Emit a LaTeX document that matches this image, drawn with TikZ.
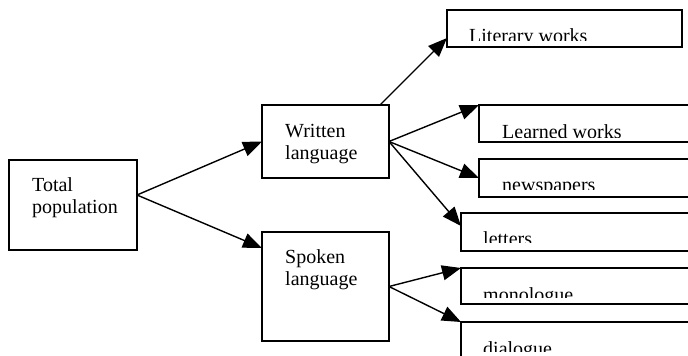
\documentclass[tikz,border=0pt]{standalone}
\usepackage{fontspec}
\setmainfont{Liberation Serif}
\usetikzlibrary{arrows.meta}
\begin{document}
\begin{tikzpicture}[x=1pt,y=-1pt,
  box/.style={draw=black,line width=1.7pt,fill=none,inner sep=0pt,outer sep=0pt},
  lbl/.style={anchor=base west,inner sep=0pt,font=\fontsize{20}{22}\selectfont},
  conn/.style={line width=1.4pt,-{Triangle[length=19pt,width=15pt]}}]
\useasboundingbox (0,0) rectangle (688,356);
\clip (0,0) rectangle (688,356);
% boxes
\node[box,minimum width=128pt,minimum height=90pt] (tot) at (73,205) {};
\node[box,minimum width=127pt,minimum height=73pt] (wri) at (325.5,141.5) {};
\node[box,minimum width=127pt,minimum height=109pt] (spo) at (325.5,286.5) {};
\node[box,minimum width=235pt,minimum height=37pt] (lit) at (564.5,28.5) {};
\node[box,minimum width=241pt,minimum height=37pt] (lea) at (599.5,123.5) {};
\node[box,minimum width=241pt,minimum height=38pt] (new) at (599.5,178) {};
\node[box,minimum width=259pt,minimum height=38pt] (let) at (590.5,232) {};
\node[box,minimum width=259pt,minimum height=36pt] (mon) at (590.5,286) {};
\node[box,minimum width=259pt,minimum height=38pt] (dia) at (590.5,341) {};
% texts of the left boxes
\node[lbl] (totT) at (32,191) {\vtop{\hbox{Total}\hbox{population}}};
\node[lbl] (wriT) at (285,137) {\vtop{\hbox{Written}\hbox{language}}};
\node[lbl] (spoT) at (285,263) {\vtop{\hbox{Spoken}\hbox{language}}};
% clipped texts of the right boxes (the reference shows them cut at the bottom)
\begin{scope}\clip (447,10) rectangle (682,40.5);
\node[lbl] (litT) at (469,42) {Literary works};\end{scope}
\begin{scope}\clip (479,105) rectangle (688,137);
\node[lbl] (leaT) at (502,138) {Learned works};\end{scope}
\begin{scope}\clip (479,159) rectangle (688,189.5);
\node[lbl] (newT) at (502,191) {newspapers};\end{scope}
\begin{scope}\clip (461,213) rectangle (688,242.5);
\node[lbl] (letT) at (483,245.5) {letters};\end{scope}
\begin{scope}\clip (461,268) rectangle (688,297);
\node[lbl] (monT) at (483,301.5) {monologue};\end{scope}
\begin{scope}\clip (461,322) rectangle (688,351);
\node[lbl] (diaT) at (483,355.5) {dialogue};\end{scope}
% connector points
\coordinate (totOut) at (137,195);
\coordinate (spoIn) at (262,248);
\coordinate (wriTop) at (380,105);
\coordinate (litIn) at (447,38);
\coordinate (letIn) at (461,226);
% connectors
\draw[conn] (totOut) -- (wri.west);
\draw[conn] (totOut) -- (spoIn);
\draw[conn] (wriTop) -- (litIn);
\draw[conn] (wri.east) -- (lea.north west);
\draw[conn] (wri.east) -- (new.west);
\draw[conn] (wri.east) -- (letIn);
\draw[conn] (spo.east) -- (mon.north west);
\draw[conn] (spo.east) -- (dia.north west);
\end{tikzpicture}
\end{document}
